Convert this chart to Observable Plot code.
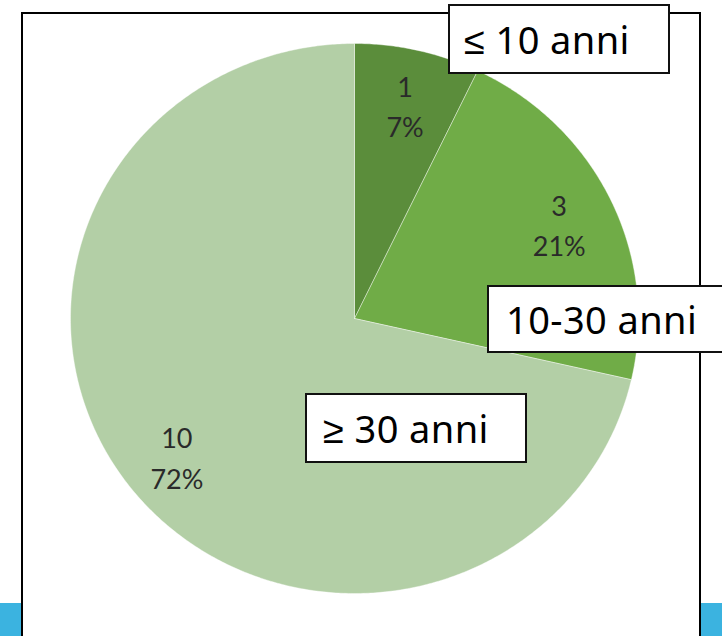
<!DOCTYPE html>
<html>
<head>
<meta charset="utf-8">
<script src="https://cdn.jsdelivr.net/npm/d3@7"></script>
<script src="https://cdn.jsdelivr.net/npm/@observablehq/plot@0.6"></script>
<style>
  html, body { margin: 0; padding: 0; background: #fff; }
  #wrap { position: relative; width: 722px; height: 636px; overflow: hidden; background: #fff; }
  #chart { position: absolute; left: 0; top: 0; }
  .frame { position: absolute; left: 21px; top: 12px; width: 680px; height: 640px; border: 2px solid #000; box-sizing: border-box; }
  .blue { position: absolute; background: #3bb3e0; top: 603px; height: 33px; }
  .tag { position: absolute; background: #fff; border: 2px solid #111; box-sizing: border-box;
         font-family: "Noto Sans", sans-serif; font-size: 38px; color: #000; display: flex; align-items: center;
         white-space: nowrap; letter-spacing: 0.4px; }
</style>
</head>
<body>
<div id="wrap">
  <div class="blue" style="left:0;width:21px"></div>
  <div class="blue" style="left:701px;width:21px"></div>
  <div class="frame"></div>
  <div id="chart"></div>
</div>
<script>
// Data
const categories = ["≤ 10 anni", "10-30 anni", "≥ 30 anni"];
const counts = [1, 3, 10];
const percentLabels = ["7%", "21%", "72%"];
const colors = ["#5b8d3b", "#70ac47", "#b3cfa6"];

// Layout of the category tags (left, top, width, height, padding-left)
const tagBoxes = [
  [448, 4, 222, 70, 14],
  [487, 285, 245, 68, 17],
  [305, 393, 222, 70, 16]
];

const pie = d3.pie().sort(null)(counts);
const step = Math.PI / 360;
const polys = [];
pie.forEach((s, i) => {
  polys.push({key: i, x: 0, y: 0, color: colors[i]});
  const n = Math.max(2, Math.ceil((s.endAngle - s.startAngle) / step));
  for (let k = 0; k <= n; k++) {
    const a = s.startAngle + (s.endAngle - s.startAngle) * k / n;
    polys.push({key: i, x: Math.sin(a), y: Math.cos(a), color: colors[i]});
  }
  polys.push({key: i, x: 0, y: 0, color: colors[i]});
});

const labelR = 0.8;
const labels = pie.map((s, i) => {
  const m = (s.startAngle + s.endAngle) / 2;
  return {x: labelR * Math.sin(m), y: labelR * Math.cos(m), text: counts[i] + "\n" + percentLabels[i]};
});

const chart = Plot.plot({
  width: 722,
  height: 636,
  margin: 0,
  x: {domain: [-1, 1], range: [70, 638], axis: null},
  y: {domain: [-1, 1], range: [593, 43], axis: null},
  style: {background: "transparent", overflow: "visible"},
  marks: [
    Plot.line(polys, {x: "x", y: "y", z: "key", fill: "color", stroke: "#ffffff", strokeWidth: 0.8, strokeOpacity: 0.5, curve: "linear"}),
    Plot.text(labels, {x: "x", y: "y", text: "text", fontSize: 27, lineHeight: 1.5, fill: "#2a2a2a", fontFamily: "Lato, 'Open Sans', sans-serif"})
  ]
});
document.getElementById("chart").appendChild(chart);

const wrap = document.getElementById("wrap");
categories.forEach((c, i) => {
  const [l, t, w, h, p] = tagBoxes[i];
  const d = document.createElement("div");
  d.className = "tag";
  d.style.left = l + "px"; d.style.top = t + "px";
  d.style.width = w + "px"; d.style.height = h + "px";
  d.style.paddingLeft = p + "px";
  d.textContent = c;
  wrap.appendChild(d);
});
</script>
</body>
</html>
